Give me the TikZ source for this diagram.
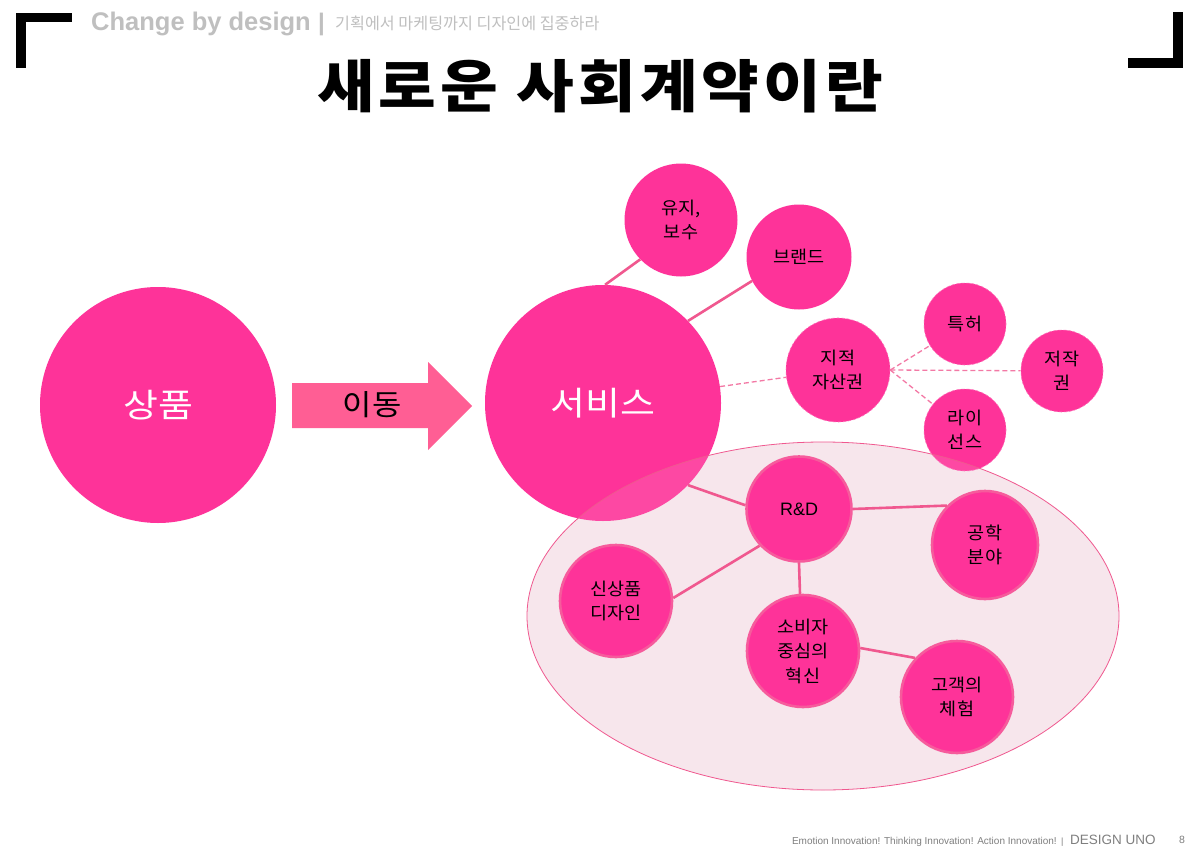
\documentclass[tikz,border=0pt]{standalone}
\usepackage{fontspec}
\setmainfont{Liberation Sans}
\newfontfamily\kr{Noto Sans CJK KR}
\newfontfamily\krwide[FakeStretch=1.15]{Noto Sans CJK KR}
\newfontfamily\krmid[FakeStretch=1.1]{Noto Sans CJK KR}
\newfontfamily\krtitle[FakeStretch=1.1,LetterSpace=7]{Noto Sans CJK KR}
\newfontfamily\krsmall[FakeStretch=1.06]{Noto Sans CJK KR}
\usetikzlibrary{shapes.geometric}
\definecolor{hot}{HTML}{FE3399}
\definecolor{lnk}{HTML}{F0588F}
\definecolor{arr}{HTML}{FF5E94}
\definecolor{ellf}{HTML}{F7E6EC}
\definecolor{ringc}{HTML}{F65B9C}
\definecolor{hdr}{HTML}{BFBFBF}
\definecolor{foot}{HTML}{7F7F7F}
\tikzset{
  bub/.style={circle, fill=hot, inner sep=0pt, align=center},
  bigbub/.style={bub, minimum size=236pt, text=white, font=\krwide\fontsize{33}{38}\selectfont},
  smallbub/.style={bub, font=\krsmall\fontsize{17.5}{24.5}\selectfont},
  ipbub/.style={smallbub, draw=hot!70!white, densely dashed, line width=0.6pt},
  ringbub/.style={smallbub, draw=ringc, line width=2.6pt},
  conn/.style={draw=lnk, line width=2.6pt},
  dconn/.style={draw=lnk!80!white, line width=1.3pt, dash pattern=on 5pt off 3pt},
}
\begin{document}
\begin{tikzpicture}[x=1pt,y=-1pt]
\useasboundingbox (0,0) rectangle (1200,851);
\fill[white] (0,0) rectangle (1200,851);
% corner brackets
\fill[black] (16,13) rectangle (72,22);
\fill[black] (16,13) rectangle (26,68);
\fill[black] (1128,58) rectangle (1183,68);
\fill[black] (1173,12) rectangle (1183,68);
% header
\node[anchor=base west, inner sep=0pt, text=hdr, font=\bfseries\fontsize{25.5}{28}\selectfont] (hd) at (91,31) {Change by design};
\node[anchor=base west, inner sep=0pt, text=hdr, font=\bfseries\fontsize{24}{28}\selectfont] (bar) at (318,31) {|};
\node[anchor=base west, inner sep=0pt, text=hdr, font=\kr\fontsize{16.2}{18}\selectfont] (sub) at (335,30) {기획에서 마케팅까지 디자인에 집중하라};
% title
\node[inner sep=0pt, font=\krtitle\bfseries\fontsize{57}{60}\selectfont] (title) at (600,86) {새로운 사회계약이란};
% ellipse fill (behind)
\fill[ellf] (823,616) ellipse (296pt and 174pt);
% main circles
\node[bigbub] (sp) at (158,405) {상품};
\node[bigbub] (sv) at (603,403) {서비스};
% arrow
\fill[arr] (292,383) -- (428,383) -- (428,362) -- (472,406) -- (428,450) -- (428,428) -- (292,428) -- cycle;
\node[font=\krmid\fontsize{29}{34}\selectfont, inner sep=0pt] (mv) at (372,405) {이동};
% top satellites
\node[smallbub, minimum size=113pt] (ms) at (681,220) {유지,\\보수};
\node[smallbub, minimum size=105pt] (br) at (799,257) {브랜드};
\node[ipbub, minimum size=104pt] (ip) at (838,370) {지적\\자산권};
\node[ipbub, minimum size=82pt] (pt) at (965,324) {특허};
\node[ipbub, minimum size=82pt] (cr) at (1062,371) {저작\\권};
\node[ipbub, minimum size=82pt] (li) at (965,430) {라이\\선스};
% ellipse border over service and license circles
\fill[ellf, fill opacity=0.12] (823,616) ellipse (296pt and 174pt);
\draw[lnk, line width=0.8pt] (823,616) ellipse (296pt and 174pt);
% inner circles
\node[ringbub, minimum size=105pt, font=\fontsize{18}{22}\selectfont] (rd) at (799,509) {R\&D};
\node[ringbub, minimum width=106pt, minimum height=108pt, ellipse] (en) at (985,545) {공학\\분야};
\node[ringbub, minimum size=112pt] (nd) at (616,601) {신상품\\디자인};
\node[ringbub, minimum size=112pt] (ci) at (803,651) {소비자\\중심의\\혁신};
\node[ringbub, minimum size=112pt] (cx) at (957,697) {고객의\\체험};
% connectors
\path[conn] (sv.89.5) -- (ms.224);
\path[conn] (sv.44) -- (br.207);
\path[conn] (sv.316) -- (rd.176);
\path[conn] (rd.0) -- (en.134);
\path[conn] (rd.223) -- (nd.3);
\path[conn] (rd.270) -- (ci.93);
\path[conn] (ci.3) -- (cx.137);
\path[dconn] (sv) -- (ip);
\path[dconn] (ip.east) -- (pt);
\path[dconn] (ip.east) -- (cr);
\path[dconn] (ip.east) -- (li);
% footer
\node[anchor=base east, inner sep=0pt, text=foot, font=\fontsize{10}{11}\selectfont] (f1) at (1057,844) {Emotion Innovation! Thinking Innovation! Action Innovation!};
\node[anchor=base west, inner sep=0pt, text=foot, font=\fontsize{9}{11}\selectfont] (f2) at (1061,844) {|};
\node[anchor=base west, inner sep=0pt, text=foot, font=\fontsize{13.5}{15}\selectfont] (f3) at (1070,844) {DESIGN UNO};
\node[anchor=base west, inner sep=0pt, text=foot, font=\fontsize{10.5}{12}\selectfont] (f4) at (1179,843) {8};
\end{tikzpicture}
\end{document}
